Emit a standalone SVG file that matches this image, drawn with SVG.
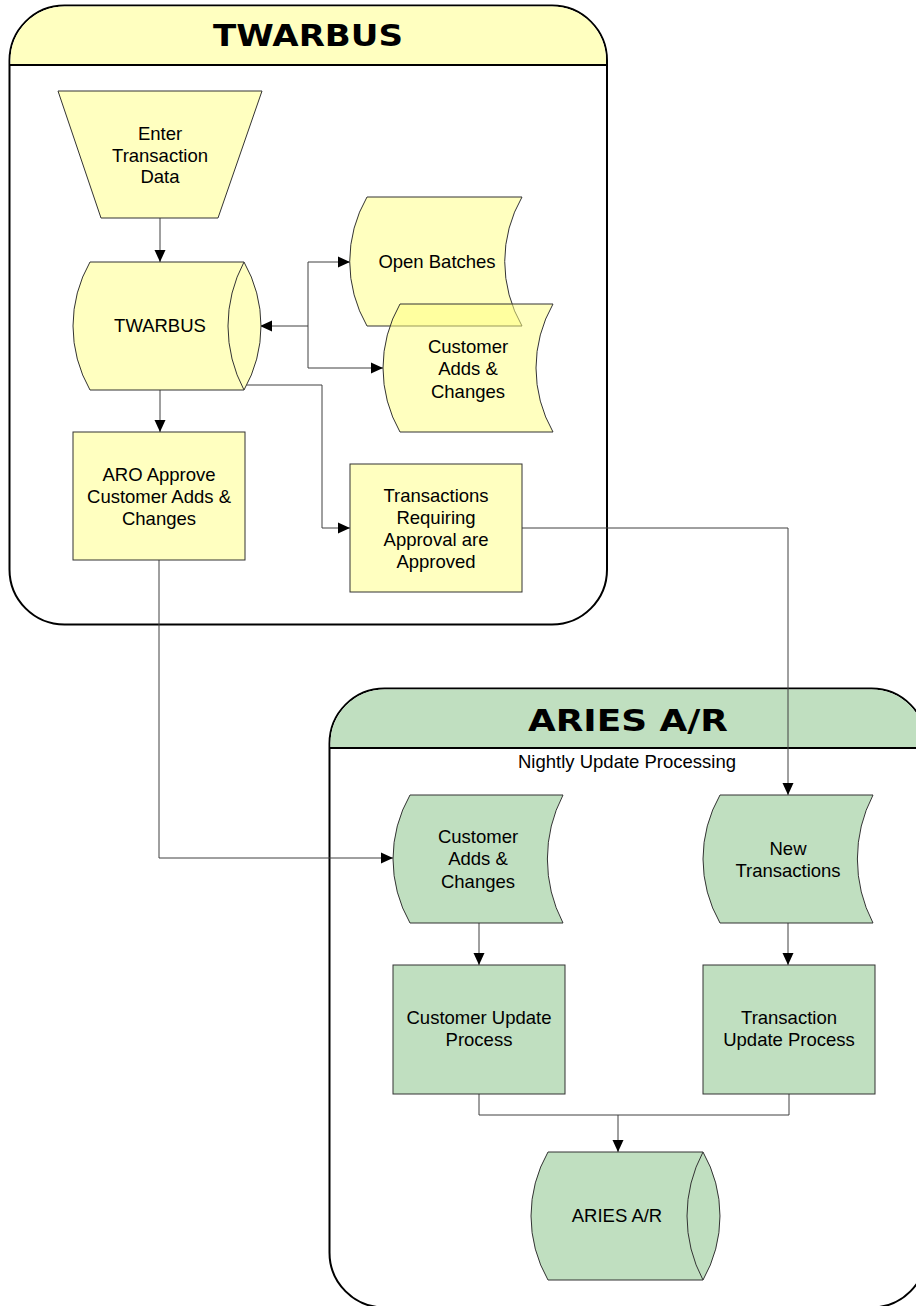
<svg xmlns="http://www.w3.org/2000/svg" width="916" height="1306" viewBox="0 0 916 1306">
<defs>
<style>
.cont{fill:#ffffff;stroke:#000000;stroke-width:2}
.hdrY{fill:#ffffc0;stroke:none}
.hdrG{fill:#c0dfc0;stroke:none}
.hline{stroke:#000000;stroke-width:2;fill:none}
.title{font-family:"DejaVu Sans",sans-serif;font-weight:bold;font-size:31px;fill:#000000;text-anchor:middle}
.y{fill:#ffffc0;stroke:#333333;stroke-width:1}
.yt{fill:#ffff80;fill-opacity:0.5;stroke:#333333;stroke-width:1}
.g{fill:#c0dfc0;stroke:#333333;stroke-width:1}
.lbl{font-family:"Liberation Sans",Arial,sans-serif;font-size:18.5px;fill:#000000;text-anchor:middle}
.con{fill:none;stroke:#404040;stroke-width:1}
</style>
<marker id="ah" viewBox="0 0 12 12" refX="12" refY="6" markerWidth="12" markerHeight="12" markerUnits="userSpaceOnUse" orient="auto-start-reverse">
<path d="M0,0.5 L12,6 L0,11.5 Z" fill="#000000"/>
</marker>
</defs>

<g id="container-twarbus">
<rect class="cont" x="9.5" y="5.5" width="597.5" height="619" rx="55" ry="55"/>
<path class="hdrY" d="M10.5,65 V60.5 A54,54 0 0 1 64.5,6.5 H552 A54,54 0 0 1 606,60.5 V65 Z"/>
<path class="hline" d="M9.5,65 H607"/>
<text class="title" x="308" y="46" textLength="190" lengthAdjust="spacingAndGlyphs">TWARBUS</text>
</g>

<g id="container-aries">
<rect class="cont" x="329.5" y="688.5" width="597" height="619" rx="55" ry="55"/>
<path class="hdrG" d="M330.5,748 V743.5 A54,54 0 0 1 384.5,689.5 H871.5 A54,54 0 0 1 925.5,743.5 V748 Z"/>
<path class="hline" d="M329.5,748 H926.5"/>
<text class="title" x="628" y="731" textLength="200" lengthAdjust="spacingAndGlyphs">ARIES A/R</text>
<text class="lbl" x="627" y="768">Nightly Update Processing</text>
</g>

<g id="connectors">
<path class="con" d="M160,218 V262" marker-end="url(#ah)"/>
<path class="con" d="M350,262 H308 V326 H260" marker-start="url(#ah)" marker-end="url(#ah)"/>
<path class="con" d="M308,326 V368 H383" marker-end="url(#ah)"/>
<path class="con" d="M246,385 H322 V528 H350" marker-end="url(#ah)"/>
<path class="con" d="M160,390 V432" marker-end="url(#ah)"/>
<path class="con" d="M159,560 V858 H393" marker-end="url(#ah)"/>
<path class="con" d="M522,528 H788 V795" marker-end="url(#ah)"/>
<path class="con" d="M479,923 V965" marker-end="url(#ah)"/>
<path class="con" d="M788,923 V965" marker-end="url(#ah)"/>
<path class="con" d="M479,1094 V1115 H789 V1094"/>
<path class="con" d="M618,1115 V1152" marker-end="url(#ah)"/>
</g>

<g id="node-enter">
<path class="y" d="M58,91 H262 L218,218 H101 Z"/>
<text class="lbl" x="160" y="140">Enter</text>
<text class="lbl" x="160" y="162">Transaction</text>
<text class="lbl" x="160" y="183">Data</text>
</g>

<g id="node-twarbus-db">
<path class="y" d="M90,262 H244 A129,129 0 0 1 244,390 H90 A129,129 0 0 1 90,262 Z"/>
<path class="y" d="M244,262 A136,136 0 0 0 244,390" fill="none"/>
<text class="lbl" x="160" y="332">TWARBUS</text>
</g>

<g id="node-open-batches">
<path class="yt" d="M367,197 H522 A129,129 0 0 0 522,326 H367 A129,129 0 0 1 367,197 Z"/>
<text class="lbl" x="437" y="268">Open Batches</text>
</g>

<g id="node-cust-adds-y">
<path class="yt" d="M400,304 H553 A129,129 0 0 0 553,432 H400 A129,129 0 0 1 400,304 Z"/>
<text class="lbl" x="468" y="353">Customer</text>
<text class="lbl" x="468" y="375">Adds &amp;</text>
<text class="lbl" x="468" y="398">Changes</text>
</g>

<g id="node-aro">
<rect class="y" x="73" y="432" width="172" height="128"/>
<text class="lbl" x="159" y="481">ARO Approve</text>
<text class="lbl" x="159" y="503">Customer Adds &amp;</text>
<text class="lbl" x="159" y="525">Changes</text>
</g>

<g id="node-trans-approve">
<rect class="y" x="350" y="464" width="172" height="128"/>
<text class="lbl" x="436" y="502">Transactions</text>
<text class="lbl" x="436" y="524">Requiring</text>
<text class="lbl" x="436" y="546">Approval are</text>
<text class="lbl" x="436" y="568">Approved</text>
</g>

<g id="node-cust-adds-g">
<path class="g" d="M410,795 H563 A139,139 0 0 0 563,923 H410 A129,129 0 0 1 410,795 Z"/>
<text class="lbl" x="478" y="843">Customer</text>
<text class="lbl" x="478" y="865">Adds &amp;</text>
<text class="lbl" x="478" y="888">Changes</text>
</g>

<g id="node-new-trans">
<path class="g" d="M720,795 H873 A139,139 0 0 0 873,923 H720 A129,129 0 0 1 720,795 Z"/>
<text class="lbl" x="788" y="855">New</text>
<text class="lbl" x="788" y="877">Transactions</text>
</g>

<g id="node-cust-update">
<rect class="g" x="393" y="965" width="172" height="129"/>
<text class="lbl" x="479" y="1024">Customer Update</text>
<text class="lbl" x="479" y="1046">Process</text>
</g>

<g id="node-trans-update">
<rect class="g" x="703" y="965" width="172" height="129"/>
<text class="lbl" x="789" y="1024">Transaction</text>
<text class="lbl" x="789" y="1046">Update Process</text>
</g>

<g id="node-aries-db">
<path class="g" d="M548,1152 H703 A129,129 0 0 1 703,1280 H548 A129,129 0 0 1 548,1152 Z"/>
<path class="g" d="M703,1152 A136,136 0 0 0 703,1280" fill="none"/>
<text class="lbl" x="617" y="1222">ARIES A/R</text>
</g>
</svg>
